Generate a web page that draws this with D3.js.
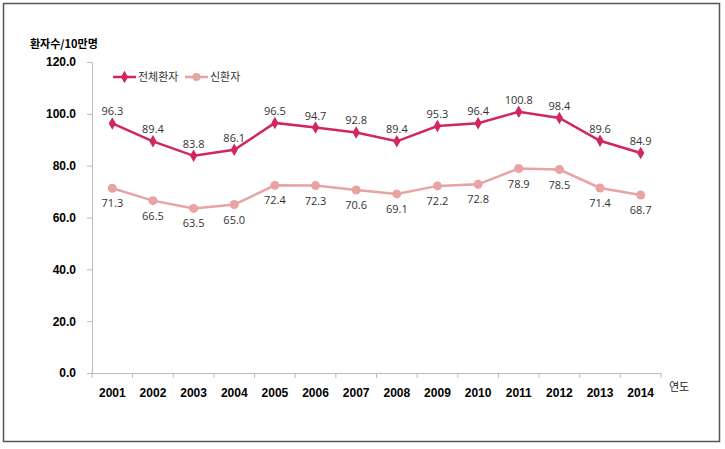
<!DOCTYPE html>
<html><head><meta charset="utf-8">
<script src="https://cdn.jsdelivr.net/npm/d3@7"></script>
<style>body{margin:0;background:#fff;}svg{display:block;font-family:"Malgun Gothic","Noto Sans CJK KR",sans-serif;}</style>
</head><body>
<svg id="c" width="725" height="449"></svg>
<script>
const years = ["2001","2002","2003","2004","2005","2006","2007","2008","2009","2010","2011","2012","2013","2014"];
const totalPatients = [96.3,89.4,83.8,86.1,96.5,94.7,92.8,89.4,95.3,96.4,100.8,98.4,89.6,84.9];
const newPatients = [71.3,66.5,63.5,65.0,72.4,72.3,70.6,69.1,72.2,72.8,78.9,78.5,71.4,68.7];
const yTicks = [0,20,40,60,80,100,120];
const seriesNames = ["전체환자","신환자"];

const svg = d3.select("#c");
svg.append("rect").attr("x",3.5).attr("y",3.5).attr("width",716).attr("height",438)
  .attr("fill","#fff").attr("stroke","#555").attr("stroke-width",1.5);

const x0 = 92, x1 = 661, yTop = 62, yBot = 373;
const x = d3.scaleBand().domain(years).range([x0,x1]);
const y = d3.scaleLinear().domain([0,120]).range([yBot,yTop]);

// y axis
const yAxis = svg.append("g").attr("transform",`translate(${x0},0)`)
  .call(d3.axisLeft(y).tickValues(yTicks).tickSize(5).tickPadding(11).tickFormat(d3.format(".1f")));
yAxis.select(".domain").attr("stroke","#bbb");
yAxis.selectAll(".tick line").attr("stroke","#bbb");
yAxis.selectAll("text").attr("font-size",12).attr("font-weight","bold").attr("fill","#000")
  .attr("font-family","Arial, 'Liberation Sans', sans-serif");

// x axis
const xAxis = svg.append("g").attr("transform",`translate(0,${yBot})`)
  .call(d3.axisBottom(x).tickSize(0).tickPadding(15));
xAxis.select(".domain").attr("stroke","#bbb");
xAxis.selectAll("text").attr("font-size",12).attr("font-weight","bold").attr("fill","#000")
  .attr("font-family","Arial, 'Liberation Sans', sans-serif");
// boundary ticks
const bounds = years.map(d=>x(d)).concat([x1]);
svg.append("g").selectAll("line").data(bounds).join("line")
  .attr("x1",d=>d).attr("x2",d=>d).attr("y1",yBot).attr("y2",yBot+5).attr("stroke","#bbb");

svg.append("text").attr("x",30).attr("y",48).attr("font-size",11).attr("font-weight","bold").text("환자수/10만명");
svg.append("text").attr("x",669).attr("y",391).attr("font-size",11).attr("fill","#222").text("연도");

const cx = d => x(d)+x.bandwidth()/2;
const darkC = "#D1265F", lightC = "#E9A3A3";
const line = d3.line().x((d,i)=>cx(years[i])).y(d=>y(d));

// light series
svg.append("path").datum(newPatients).attr("d",line).attr("fill","none").attr("stroke",lightC).attr("stroke-width",2.5);
svg.append("g").selectAll("circle").data(newPatients).join("circle")
  .attr("cx",(d,i)=>cx(years[i])).attr("cy",d=>y(d)).attr("r",4.5).attr("fill",lightC);
svg.append("g").selectAll("text").data(newPatients).join("text")
  .attr("x",(d,i)=>cx(years[i])).attr("y",d=>y(d)+19).attr("text-anchor","middle")
  .attr("font-size",11).attr("fill","#333").attr("font-family","'Open Sans', 'DejaVu Sans', sans-serif")
  .text(d=>d.toFixed(1));

// dark series
svg.append("path").datum(totalPatients).attr("d",line).attr("fill","none").attr("stroke",darkC).attr("stroke-width",2.5);
const diamond = d3.symbol().type(d3.symbolDiamond).size(45);
svg.append("g").selectAll("path").data(totalPatients).join("path")
  .attr("d",diamond).attr("transform",(d,i)=>`translate(${cx(years[i])},${y(d)})`).attr("fill",darkC);
svg.append("g").selectAll("text").data(totalPatients).join("text")
  .attr("x",(d,i)=>cx(years[i])).attr("y",d=>y(d)-8).attr("text-anchor","middle")
  .attr("font-size",11).attr("fill","#333").attr("font-family","'Open Sans', 'DejaVu Sans', sans-serif")
  .text(d=>d.toFixed(1));

// legend
const lg = svg.append("g");
const legendItems = [{n:seriesNames[0],c:darkC,s:"d",x:113},{n:seriesNames[1],c:lightC,s:"c",x:185}];
legendItems.forEach(it=>{
  lg.append("line").attr("x1",it.x).attr("x2",it.x+23).attr("y1",77).attr("y2",77).attr("stroke",it.c).attr("stroke-width",2.5);
  if(it.s==="d") lg.append("path").attr("d",diamond).attr("transform",`translate(${it.x+11.5},77)`).attr("fill",it.c);
  else lg.append("circle").attr("cx",it.x+11.5).attr("cy",77).attr("r",4).attr("fill",it.c);
  lg.append("text").attr("x",it.x+25).attr("y",81).attr("font-size",11).attr("fill","#333").text(it.n);
});
</script>
</body></html>
